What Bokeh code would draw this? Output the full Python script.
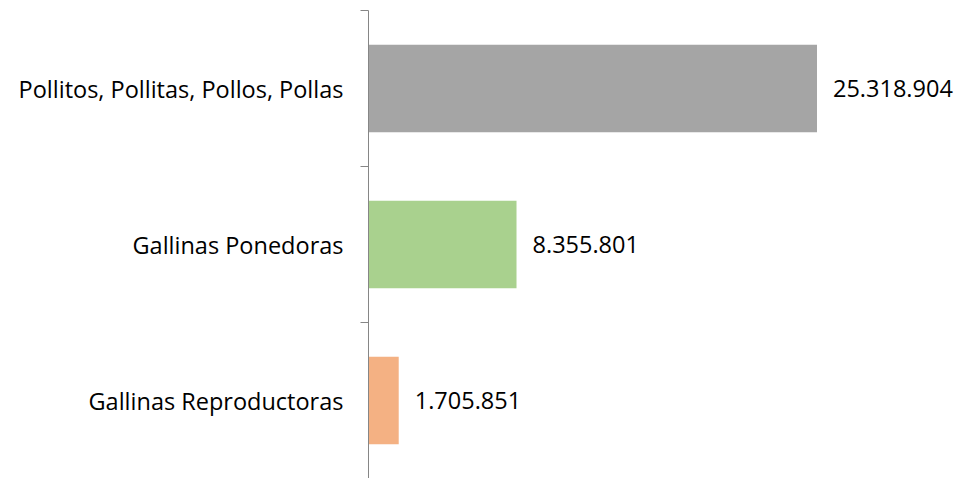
from bokeh.plotting import figure
from bokeh.models import Range1d, FixedTicker, ColumnDataSource
from bokeh.core.properties import value
from bokeh.embed import file_html
from bokeh.resources import INLINE

categories = ["Gallinas Reproductoras", "Gallinas Ponedoras", "Pollitos, Pollitas, Pollos, Pollas"]
values = [1705851, 8355801, 25318904]
colors = ["#F4B183", "#A9D18E", "#A5A5A5"]

FONT = "Open Sans"

ypos = [i + 0.5 for i in range(len(categories))]
labels = [f"{v:,}".replace(",", ".") for v in values]

src = ColumnDataSource(dict(y=ypos, v=values, c=colors, lab=labels))

W, H = 963, 478
left = 368
scale_px = 448.5 / max(values)
x_end = (W - left) / scale_px

p = figure(width=W, height=H, output_backend="svg", toolbar_location=None,
           x_range=Range1d(0, x_end), y_range=Range1d(0, len(categories)),
           x_axis_location=None, min_border_left=left, min_border_right=0,
           min_border_top=10, min_border_bottom=0)

p.hbar(y="y", right="v", left=0, height=0.56, color="c", source=src, line_color=None)
p.text(x="v", y="y", text="lab", source=src, x_offset=16, text_baseline="middle",
       text_align="left", text_font=value(FONT), text_font_size="23.5px", text_color="#000000")

ax = p.yaxis[0]
ax.ticker = FixedTicker(ticks=ypos, minor_ticks=[1, 2, 3])
ax.major_label_overrides = {y: c for y, c in zip(ypos, categories)}
ax.major_tick_line_color = None
ax.major_tick_out = 0
ax.major_tick_in = 0
ax.minor_tick_out = 8
ax.minor_tick_in = 0
ax.minor_tick_line_color = "#868686"
ax.axis_line_color = "#868686"
ax.axis_line_width = 1
ax.major_label_standoff = 17
ax.major_label_text_font = FONT
ax.major_label_text_font_size = "23.5px"
ax.major_label_text_color = "#000000"

p.grid.visible = False
p.outline_line_color = None
p.background_fill_color = "white"
p.border_fill_color = "white"

open("out.html", "w").write(file_html(p, INLINE))
